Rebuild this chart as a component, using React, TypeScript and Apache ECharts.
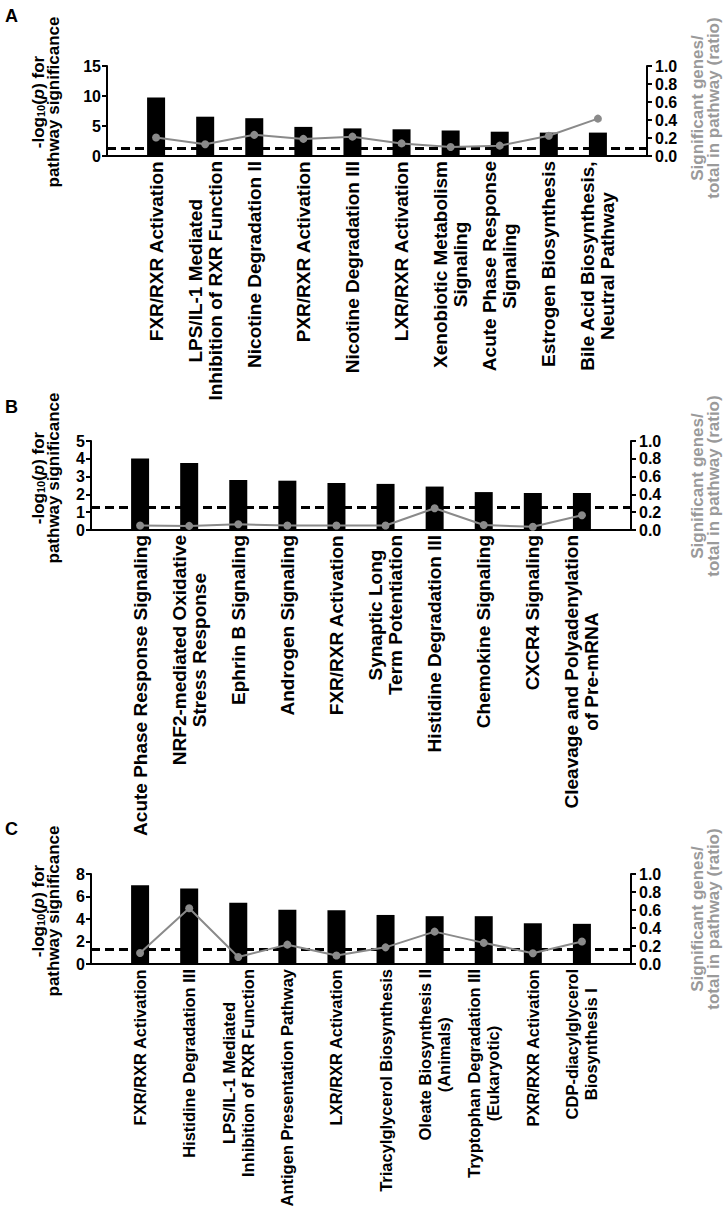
import React, { useEffect, useRef } from "react";
import * as echarts from "echarts";

// ---------- DATA ----------
const A_CATEGORIES = [
  "FXR/RXR Activation",
  "LPS/IL-1 Mediated\nInhibition of RXR Function",
  "Nicotine Degradation II",
  "PXR/RXR Activation",
  "Nicotine Degradation III",
  "LXR/RXR Activation",
  "Xenobiotic Metabolism\nSignaling",
  "Acute Phase Response\nSignaling",
  "Estrogen Biosynthesis",
  "Bile Acid Biosynthesis,\nNeutral Pathway",
];
const A_SIGNIFICANCE = [9.75, 6.55, 6.3, 4.85, 4.6, 4.45, 4.25, 4.05, 3.9, 3.9];
const A_RATIO = [0.205, 0.13, 0.235, 0.19, 0.215, 0.14, 0.1, 0.115, 0.225, 0.415];

const B_CATEGORIES = [
  "Acute Phase Response Signaling",
  "NRF2-mediated Oxidative\nStress Response",
  "Ephrin B Signaling",
  "Androgen Signaling",
  "FXR/RXR Activation",
  "Synaptic Long\nTerm Potentiation",
  "Histidine Degradation III",
  "Chemokine Signaling",
  "CXCR4 Signaling",
  "Cleavage and Polyadenylation\nof Pre-mRNA",
];
const B_SIGNIFICANCE = [4.02, 3.77, 2.81, 2.77, 2.64, 2.59, 2.44, 2.13, 2.08, 2.08];
const B_RATIO = [0.05, 0.046, 0.064, 0.05, 0.05, 0.05, 0.245, 0.056, 0.036, 0.165];

const C_CATEGORIES = [
  "FXR/RXR Activation",
  "Histidine Degradation III",
  "LPS/IL-1 Mediated\nInhibition of RXR Function",
  "Antigen Presentation Pathway",
  "LXR/RXR Activation",
  "Triacylglycerol Biosynthesis",
  "Oleate Biosynthesis II\n(Animals)",
  "Tryptophan Degradation III\n(Eukaryotic)",
  "PXR/RXR Activation",
  "CDP-diacylglycerol\nBiosynthesis I",
];
const C_SIGNIFICANCE = [7.0, 6.72, 5.45, 4.82, 4.78, 4.36, 4.25, 4.25, 3.62, 3.57];
const C_RATIO = [0.122, 0.62, 0.078, 0.215, 0.095, 0.185, 0.36, 0.235, 0.12, 0.25];

const PANEL_LETTERS = ["A", "B", "C"];
const SIG_MAX = [15, 5, 8];
const SIG_INTERVAL = [5, 1, 2];
const RATIO_MAX = 1;
const RATIO_INTERVAL = 0.2;
const THRESHOLD = 1.3; // -log10(0.05)

const LEFT_TITLE = "{n|-log}{s|10}{n|(}{i|p}{n|) for}\n{n|pathway significance}";
const RIGHT_TITLE = "Significant genes/\ntotal in pathway (ratio)";

// ---------- LAYOUT / STYLE ----------
const FONT = "'Liberation Sans', Arial, Helvetica, sans-serif";
const LAYOUT = [
  { left: 107, right: 79, top: 66, height: 90, letterY: 16, titleY: 102, rightTitleY: 108, labelSize: 19, labelLH: 20 },
  { left: 91, right: 95, top: 441, height: 89, letterY: 407, titleY: 478, rightTitleY: 486, labelSize: 19, labelLH: 20 },
  { left: 91, right: 95, top: 874, height: 90, letterY: 829, titleY: 911, rightTitleY: 919, labelSize: 16.5, labelLH: 19 },
];
const GREY = "#8a8a8a";
const TITLE_SIZE = 17;
const TICK_SIZE = 16;

const pad = (arr: number[]) => [null, ...arr, null];

function buildOption() {
  const panels = [
    { cats: A_CATEGORIES, sig: A_SIGNIFICANCE, ratio: A_RATIO },
    { cats: B_CATEGORIES, sig: B_SIGNIFICANCE, ratio: B_RATIO },
    { cats: C_CATEGORIES, sig: C_SIGNIFICANCE, ratio: C_RATIO },
  ];

  const grid: any[] = [];
  const xAxis: any[] = [];
  const yAxis: any[] = [];
  const series: any[] = [];
  const graphic: any[] = [];

  panels.forEach((p, i) => {
    const L = LAYOUT[i];
    grid.push({
      left: L.left,
      right: L.right,
      top: L.top,
      height: L.height,
      containLabel: false,
      outerBoundsMode: "none",
    });
    xAxis.push({
      type: "category",
      gridIndex: i,
      data: ["", ...p.cats, ""],
      boundaryGap: false,
      axisLine: { show: true, lineStyle: { color: "#000", width: 2 } },
      axisTick: { show: false },
      splitLine: { show: false },
      axisLabel: {
        interval: 0,
        rotate: 90,
        margin: 5,
        color: "#000",
        fontSize: L.labelSize,
        fontWeight: "bold",
        fontFamily: FONT,
        lineHeight: L.labelLH,
        formatter: (v: string) =>
          v ? v.split("\n").map((l) => `{c|${l}}`).join("\n") : "",
        rich: {
          c: {
            align: "center",
            color: "#000",
            fontSize: L.labelSize,
            fontWeight: "bold",
            fontFamily: FONT,
            lineHeight: L.labelLH,
          },
        },
      },
    });
    const axisCommon = {
      type: "value",
      gridIndex: i,
      axisLine: { show: true, lineStyle: { color: "#000", width: 2 } },
      axisTick: { show: true, length: 5, lineStyle: { color: "#000", width: 2 } },
      splitLine: { show: false },
    };
    const tickLabel = {
      color: "#000",
      fontSize: TICK_SIZE,
      lineHeight: 14,
      fontWeight: "bold",
      fontFamily: FONT,
      showMinLabel: true,
      showMaxLabel: true,
      hideOverlap: false,
    };
    yAxis.push({
      ...axisCommon,
      position: "left",
      min: 0,
      max: SIG_MAX[i],
      interval: SIG_INTERVAL[i],
      axisLabel: { ...tickLabel, margin: 6 },
    });
    yAxis.push({
      ...axisCommon,
      position: "right",
      min: 0,
      max: RATIO_MAX,
      interval: RATIO_INTERVAL,
      axisLabel: { ...tickLabel, margin: 8, formatter: (v: number) => v.toFixed(1) },
    });
    series.push({
      type: "bar",
      xAxisIndex: i,
      yAxisIndex: 2 * i,
      data: pad(p.sig),
      barWidth: 18,
      itemStyle: { color: "#000" },
      z: 2,
      markLine: {
        silent: true,
        symbol: ["none", "none"],
        label: { show: false },
        lineStyle: { color: "#000", width: 3, type: [9, 5] },
        data: [{ yAxis: THRESHOLD }],
      },
    });
    series.push({
      type: "line",
      xAxisIndex: i,
      yAxisIndex: 2 * i + 1,
      data: pad(p.ratio),
      symbol: "circle",
      symbolSize: 8,
      lineStyle: { color: GREY, width: 2 },
      itemStyle: { color: GREY },
      z: 5,
    });

    graphic.push({
      type: "text",
      x: 5,
      y: L.letterY,
      style: {
        text: PANEL_LETTERS[i],
        fill: "#000",
        fontSize: 18,
        fontWeight: "bold",
        fontFamily: FONT,
        verticalAlign: "middle",
        align: "left",
      },
    });
    graphic.push({
      type: "text",
      x: 46,
      y: L.titleY,
      rotation: Math.PI / 2,
      style: {
        text: LEFT_TITLE,
        fill: "#000",
        align: "center",
        verticalAlign: "middle",
        rich: {
          n: { fontSize: TITLE_SIZE, fontWeight: "bold", fontFamily: FONT, lineHeight: 15, fill: "#000" },
          i: { fontSize: TITLE_SIZE, fontWeight: "bold", fontStyle: "italic", fontFamily: FONT, lineHeight: 15, fill: "#000" },
          s: { fontSize: 11, fontWeight: "bold", fontFamily: FONT, lineHeight: 6, verticalAlign: "bottom", fill: "#000" },
        },
      },
    });
    graphic.push({
      type: "text",
      x: 705,
      y: L.rightTitleY,
      rotation: Math.PI / 2,
      style: {
        text: RIGHT_TITLE,
        fill: "#9a9a9a",
        fontSize: TITLE_SIZE,
        fontWeight: "bold",
        fontFamily: FONT,
        lineHeight: 16,
        align: "center",
        verticalAlign: "middle",
      },
    });
  });

  return {
    animation: false,
    backgroundColor: "#fff",
    grid,
    xAxis,
    yAxis,
    series,
    graphic,
  };
}

export default function App() {
  const ref = useRef<HTMLDivElement>(null);
  useEffect(() => {
    if (!ref.current) return;
    const chart = echarts.init(ref.current, null, { renderer: "svg" });
    chart.setOption(buildOption());
    return () => chart.dispose();
  }, []);
  return (
    <div
      ref={ref}
      style={{ position: "absolute", left: 0, top: 0, width: 726, height: 1217, background: "#fff" }}
    />
  );
}
